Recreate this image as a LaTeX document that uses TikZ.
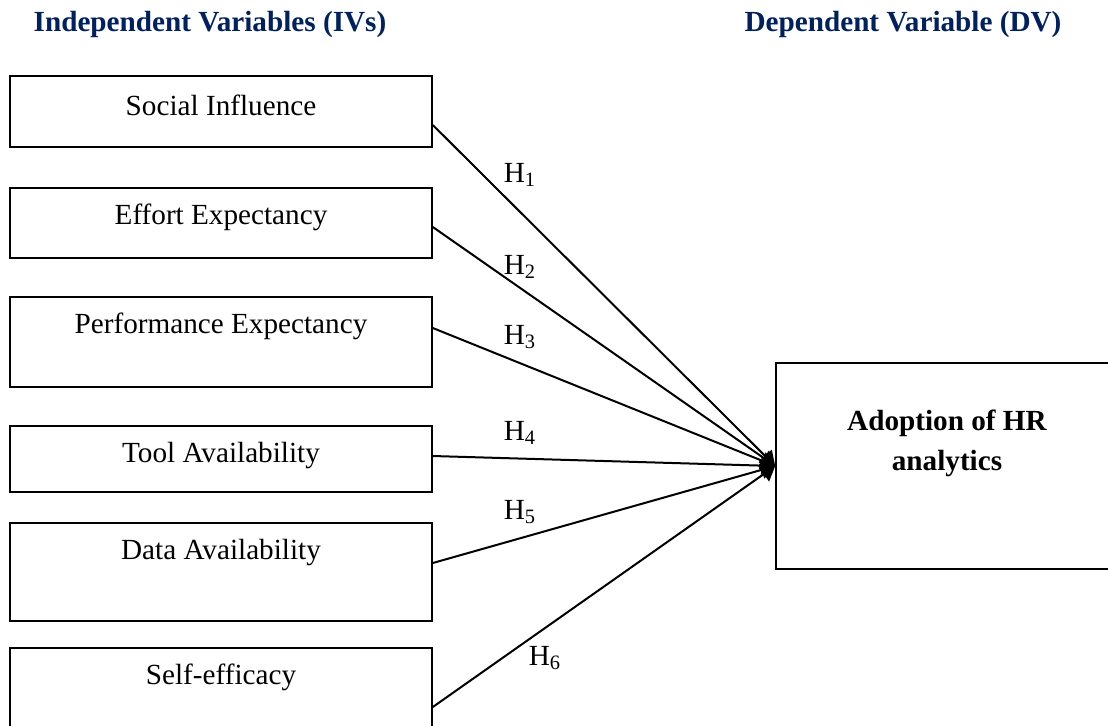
\documentclass[tikz,border=0pt]{standalone}
\usepackage{fontspec}
\setmainfont{Liberation Serif}
\usetikzlibrary{arrows.meta}

\definecolor{headblue}{HTML}{002060}

\begin{document}
\begin{tikzpicture}[x=0.5pt, y=-0.5pt,
    txt/.style={font=\fontsize{14.6}{20}\selectfont},
    header/.style={font=\fontsize{14.6}{20}\selectfont\bfseries, text=headblue},
    ivbox/.style={draw, line width=0.8pt, inner sep=0pt, minimum width=211pt},
    link/.style={line width=1pt, -{Triangle[length=7pt, width=9pt]}}
]
\useasboundingbox (0,0) rectangle (1108,725);
\clip (0,0) rectangle (1108,725);

% Headers
\node[header] (ivhead) at (210,24) {Independent Variables (IVs)};
\node[header] (dvhead) at (903,24) {Dependent Variable (DV)};

% Independent variable boxes
\node[ivbox, minimum height=35.5pt] (si) at (221,111.5) {};
\node[ivbox, minimum height=35pt]   (ee) at (221,223) {};
\node[ivbox, minimum height=45pt]   (pe) at (221,342) {};
\node[ivbox, minimum height=33pt]   (ta) at (221,459) {};
\node[ivbox, minimum height=49pt]   (da) at (221,572) {};
\node[ivbox, minimum height=56pt]   (se) at (221,704) {};

% Box texts (near the top of each box)
\node[txt] at ([yshift=-15pt]si.north) {Social Influence};
\node[txt] at ([yshift=-15pt]ee.north) {Effort Expectancy};
\node[txt] at ([yshift=-15pt]pe.north) {Performance Expectancy};
\node[txt] at ([yshift=-15pt]ta.north) {Tool Availability};
\node[txt] at ([yshift=-15pt]da.north) {Data Availability};
\node[txt] at ([yshift=-15pt]se.north) {Self-efficacy};

% Dependent variable box
\node[draw, line width=0.8pt, inner sep=0pt, minimum width=167pt, minimum height=103pt] (hr) at (943,466) {};
\node[txt, font=\fontsize{14.6}{20}\selectfont\bfseries, align=center] (hrtext) at (947,443) {Adoption of HR\\analytics};

% Start points on the right edges
\coordinate (si-out) at ([yshift=-6.75pt]si.east);
\coordinate (ee-out) at ([yshift=-2pt]ee.east);
\coordinate (pe-out) at ([yshift=7pt]pe.east);
\coordinate (ta-out) at ([yshift=1.5pt]ta.east);
\coordinate (da-out) at ([yshift=4.5pt]da.east);
\coordinate (se-out) at ([yshift=-1.5pt]se.east);

% Hypothesis links
\draw[link] (si-out) -- (hr.west);
\draw[link] (ee-out) -- (hr.west);
\draw[link] (pe-out) -- (hr.west);
\draw[link] (ta-out) -- (hr.west);
\draw[link] (da-out) -- (hr.west);
\draw[link] (se-out) -- (hr.west);

% Hypothesis labels
\node[txt] (h1) at (520,175) {H\textsubscript{1}};
\node[txt] (h2) at (520,267) {H\textsubscript{2}};
\node[txt] (h3) at (520,337) {H\textsubscript{3}};
\node[txt] (h4) at (520,433) {H\textsubscript{4}};
\node[txt] (h5) at (520,512) {H\textsubscript{5}};
\node[txt] (h6) at (545,658) {H\textsubscript{6}};

\end{tikzpicture}
\end{document}
